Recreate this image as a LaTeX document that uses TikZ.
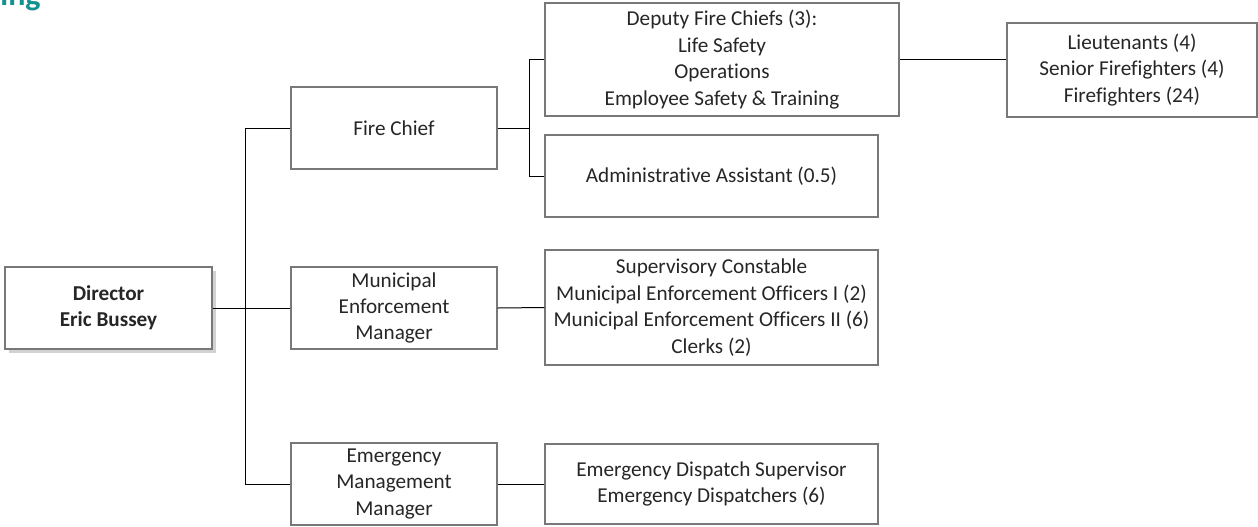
\documentclass[tikz,border=0pt]{standalone}
\usepackage{fontspec}
\setmainfont{Carlito}[Ligatures=NoCommon]
\usetikzlibrary{positioning, shadows}

\definecolor{headteal}{RGB}{22,145,145}
\definecolor{boxline}{RGB}{120,120,120}
\definecolor{txt}{RGB}{38,38,38}

\tikzset{
  unit/.style={draw=boxline, line width=0.6pt, fill=white, align=center,
    text=txt, font=\fontsize{10.6}{13.2}\selectfont, inner sep=2pt},
  head/.style={unit, drop shadow={shadow xshift=2pt, shadow yshift=-2pt, fill=black!35}},
  link/.style={draw=black, line width=0.5pt}
}

\begin{document}
\begin{tikzpicture}[x=0.5pt, y=-0.5pt]
		\useasboundingbox (0,0) rectangle (1258,526);
		
		% --- title, cut at the top
		\node[anchor=base west, inner sep=0pt, text=headteal,
		  font=\fontsize{16}{18}\selectfont\bfseries] (title) at (0,5) {ing};
		
		% --- director
		\node[head, minimum width=103.5pt, minimum height=41pt] (dir) at (108.5,308)
		  {\textbf{Director}\\\textbf{Eric Bussey}};
		
		% --- managers
		\node[unit, minimum width=103pt, minimum height=41pt] (fc)  at (394,128) {Fire Chief};
		\node[unit, minimum width=103pt, minimum height=41pt] (mem) at (394,308) {Municipal\\Enforcement\\Manager};
		\node[unit, minimum width=103pt, minimum height=41pt] (emm) at (394,484) {Emergency\\Management\\Manager};
		
		% --- staff
		\node[unit, minimum width=177pt, minimum height=56.5pt] (dfc) at (722,59.5)
		  {Deputy Fire Chiefs (3):\\Life Safety\\Operations\\Employee Safety \& Training};
		\node[unit, minimum width=166.5pt, minimum height=41pt] (aa) at (711.5,176)
		  {Administrative Assistant (0.5)};
		\node[unit, minimum width=125pt, minimum height=47pt] (lt) at (1132,70)
		  {Lieutenants (4)\\Senior Firefighters (4)\\Firefighters (24)};
		\node[unit, minimum width=166.5pt, minimum height=57.5pt] (sup) at (711.5,307.5)
		  {Supervisory Constable\\Municipal Enforcement Officers I (2)\\Municipal Enforcement Officers II (6)\\Clerks (2)};
		\node[unit, minimum width=166.5pt, minimum height=40pt] (eds) at (711.5,484)
		  {Emergency Dispatch Supervisor\\Emergency Dispatchers (6)};
		
		% --- branch points
		\coordinate (trunk) at (245,0);
		\coordinate (brk) at (529,0);
		
		% --- lines
		\draw[link] (dir.east) -- (dir.east -| trunk);
		\draw[link] (fc.west) -- (fc.west -| trunk) |- (emm.west);
		\draw[link] (mem.west) -- (mem.west -| trunk);
		\draw[link] (fc.east) -- (fc.east -| brk);
		\draw[link] (dfc.west) -- (dfc.west -| brk) |- (aa.west);
		\draw[link] (dfc.east) -- (dfc.east -| lt.west);
		\draw[link] (mem.east) -- (sup.west);
		\draw[link] (emm.east) -- (eds.west);
		
	\end{tikzpicture}
\end{document}
